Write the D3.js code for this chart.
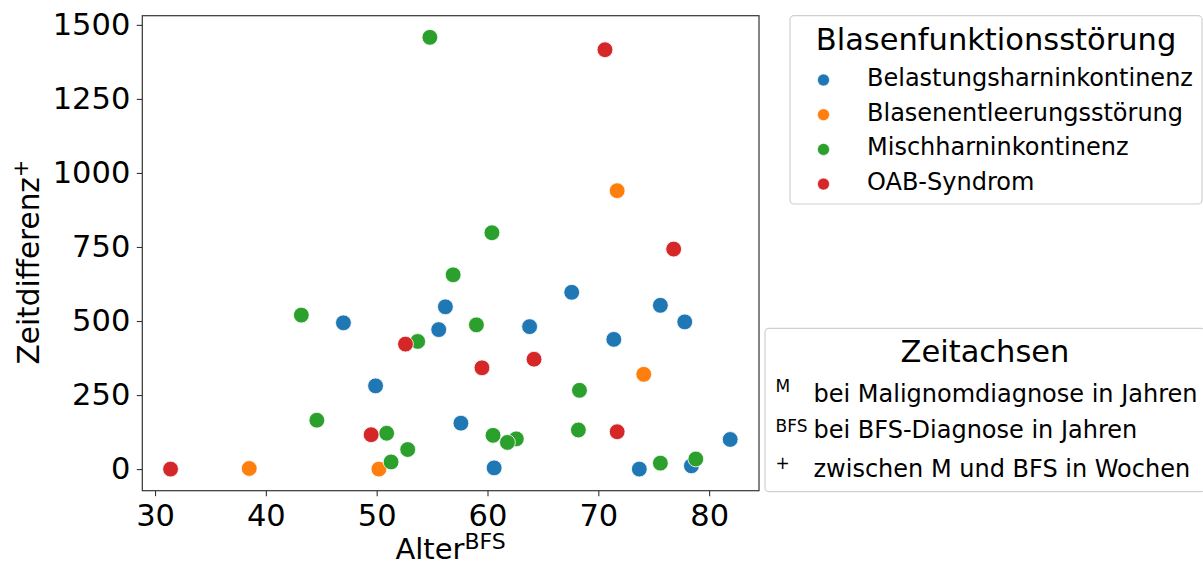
<!DOCTYPE html>
<html>
<head>
<meta charset="utf-8">
<script src="https://cdn.jsdelivr.net/npm/d3@7"></script>
<style>
  body { margin: 0; background: #fff; }
  text { font-family: "DejaVu Sans", sans-serif; fill: #000; }
</style>
</head>
<body>
<svg id="chart" width="1203" height="565"></svg>
<script>
// categories (hue) and their colours
var categories = ["Belastungsharninkontinenz", "Blasenentleerungsstörung", "Mischharninkontinenz", "OAB-Syndrom"];
var palette = ["#1f77b4", "#ff7f0e", "#2ca02c", "#d62728"];

// Alter bei BFS-Diagnose (Jahre) / Zeitdifferenz (Wochen), per category
var belastungAlter = [47.0, 49.9, 55.6, 56.2, 57.6, 60.6, 63.8, 67.6, 71.4, 73.7, 75.6, 77.8, 78.4, 81.9];
var belastungZeit  = [494, 281, 471, 548, 155, 4, 481, 597, 438, 0, 553, 497, 11, 100];
var entleerungAlter = [38.5, 50.2, 71.7, 74.1];
var entleerungZeit  = [2, 0, 940, 320];
var mischAlter = [43.2, 44.6, 50.9, 51.3, 52.8, 53.7, 54.8, 56.9, 59.0, 60.4, 60.5, 62.6, 61.8, 68.2, 68.3, 75.6, 78.8];
var mischZeit  = [520, 165, 121, 24, 66, 431, 1458, 656, 487, 798, 114, 102, 90, 132, 266, 20, 34];
var oabAlter = [31.4, 49.5, 52.6, 59.5, 64.2, 70.6, 71.7, 76.8];
var oabZeit  = [0, 116, 422, 342, 371, 1416, 126, 743];

var xTicks = [30, 40, 50, 60, 70, 80];
var yTicks = [0, 250, 500, 750, 1000, 1250, 1500];

var zeitachsenSym = ["M", "BFS", "+"];
var zeitachsenText = ["bei Malignomdiagnose in Jahren", "bei BFS-Diagnose in Jahren", "zwischen M und BFS in Wochen"];

var series = [
    { alter: belastungAlter, zeit: belastungZeit },
    { alter: entleerungAlter, zeit: entleerungZeit },
    { alter: mischAlter, zeit: mischZeit },
    { alter: oabAlter, zeit: oabZeit }
];
var points = [];
series.forEach(function (s, ci) {
    s.alter.forEach(function (a, i) {
        points.push({ x: a, y: s.zeit[i], c: ci });
    });
});

var svg = d3.select("#chart");
var plot = { left: 142.3, top: 15.7, right: 759, bottom: 490.7 };

var x = d3.scaleLinear().domain([28.85, 84.5]).range([plot.left, plot.right]);
var y = d3.scaleLinear().domain([-73, 1531]).range([plot.bottom, plot.top]);

//  Axes ---
var xAxis = svg.append("g")
    .attr("transform", "translate(0," + plot.bottom + ")")
    .call(d3.axisBottom(x).tickValues(xTicks).tickFormat(d3.format("d"))
        .tickSize(5.5).tickPadding(8.5).tickSizeOuter(0));
var yAxis = svg.append("g")
    .attr("transform", "translate(" + plot.left + ",0)")
    .call(d3.axisLeft(y).tickValues(yTicks).tickFormat(d3.format("d"))
        .tickSize(5.5).tickPadding(6.5).tickSizeOuter(0));
[xAxis, yAxis].forEach(function (ax) {
    ax.select(".domain").remove();
    ax.selectAll(".tick line").attr("stroke", "#333").attr("stroke-width", 1.1);
    ax.selectAll(".tick text")
        .style("font-family", "DejaVu Sans")
        .style("font-size", "30.5px")
        .attr("fill", "#000");
});

//  Frame ---
svg.append("rect")
    .attr("x", plot.left).attr("y", plot.top)
    .attr("width", plot.right - plot.left).attr("height", plot.bottom - plot.top)
    .attr("fill", "none").attr("stroke", "#333").attr("stroke-width", 1.2);

//  Points ---
svg.append("g").selectAll("circle")
    .data(points)
    .enter().append("circle")
    .attr("cx", function (d) { return x(d.x); })
    .attr("cy", function (d) { return y(d.y); })
    .attr("r", 7.9)
    .attr("fill", function (d) { return palette[d.c]; })
    .attr("stroke", "#fff")
    .attr("stroke-width", 0.8);

//  Axis labels ---
var xl = svg.append("text")
    .attr("x", (plot.left + plot.right) / 2)
    .attr("y", 559)
    .attr("text-anchor", "middle")
    .style("font-size", "29px");
xl.append("tspan").text("Alter");
xl.append("tspan").attr("dy", -10).style("font-size", "22px").text("BFS");

var yl = svg.append("text")
    .attr("transform", "translate(39,262) rotate(-90)")
    .attr("text-anchor", "middle")
    .style("font-size", "29.5px");
yl.append("tspan").text("Zeitdifferenz");
yl.append("tspan").attr("dy", -11).style("font-size", "21px").text("+");

//  Legend: Blasenfunktionsstörung ---
var lg = svg.append("g");
lg.append("rect")
    .attr("x", 790).attr("y", 15.7).attr("width", 412).attr("height", 188.3)
    .attr("rx", 4).attr("fill", "#fff").attr("fill-opacity", 0.8)
    .attr("stroke", "#d0d0d0").attr("stroke-width", 1.2);
lg.append("text")
    .attr("x", 996).attr("y", 50)
    .attr("text-anchor", "middle")
    .style("font-size", "30.5px")
    .text("Blasenfunktionsstörung");
categories.forEach(function (c, i) {
    var cy = 80 + i * 34.7;
    lg.append("circle").attr("cx", 823.5).attr("cy", cy).attr("r", 6)
        .attr("fill", palette[i]).attr("stroke", "#fff").attr("stroke-width", 0.6);
    lg.append("text").attr("x", 867).attr("y", cy + 6)
        .style("font-size", "24px").text(c);
});

//  Legend: Zeitachsen ---
var lz = svg.append("g");
lz.append("rect")
    .attr("x", 765).attr("y", 328.3).attr("width", 440).attr("height", 163.4)
    .attr("rx", 4).attr("fill", "#fff").attr("fill-opacity", 0.8)
    .attr("stroke", "#d0d0d0").attr("stroke-width", 1.2);
lz.append("text")
    .attr("x", 985).attr("y", 361.7)
    .attr("text-anchor", "middle")
    .style("font-size", "30.5px")
    .text("Zeitachsen");
var rowBase = [401.7, 437.5, 476.5];
var symBase = [391.7, 431.7, 468.5];
zeitachsenText.forEach(function (t, i) {
    lz.append("text").attr("x", 775.5).attr("y", symBase[i])
        .style("font-size", "17px").text(zeitachsenSym[i]);
    lz.append("text").attr("x", 813.5).attr("y", rowBase[i])
        .style("font-size", "24px").text(t);
});
</script>
</body>
</html>
